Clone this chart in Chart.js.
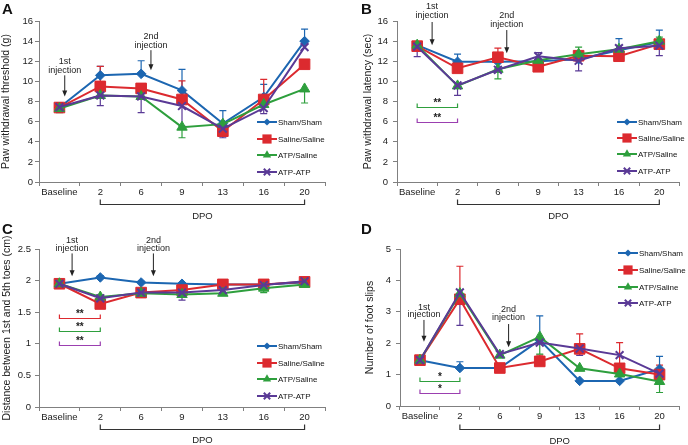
<!DOCTYPE html>
<html>
<head>
<meta charset="utf-8">
<script src="https://cdn.jsdelivr.net/npm/chart.js@4.4.1/dist/chart.umd.min.js"></script>
<style>
  body { margin: 0; background: #fff; width: 688px; height: 445px; position: relative; overflow: hidden; font-family: 'Liberation Sans', Arial, sans-serif; }
  canvas { position: absolute; }
  .tag { position: absolute; font-weight: bold; font-size: 15px; line-height: 1; color: #111; }
</style>
</head>
<body>
<canvas id="A" width="344" height="222" style="left:0;top:0"></canvas>
<canvas id="B" width="343" height="222" style="left:345px;top:0"></canvas>
<canvas id="C" width="344" height="223" style="left:0;top:222px"></canvas>
<canvas id="D" width="343" height="223" style="left:345px;top:222px"></canvas>
<div class="tag" style="left:2px;top:1px">A</div>
<div class="tag" style="left:361px;top:1px">B</div>
<div class="tag" style="left:2px;top:221px">C</div>
<div class="tag" style="left:361px;top:221px">D</div>
<script>
const categories = ['Baseline', '2', '6', '9', '13', '16', '20'];
const groups = ['Sham/Sham', 'Saline/Saline', 'ATP/Saline', 'ATP-ATP'];

// error bars: only the half visible in the figure is kept, + above the mean, - below

// A - paw withdrawal threshold (g)
const aSham = [7.4, 10.6, 10.75, 9.1, 5.8, 8.45, 14.0];
const aSaline = [7.4, 9.5, 9.3, 8.2, 5.05, 8.2, 11.7];
const aAtpSaline = [7.3, 8.6, 8.5, 5.45, 5.75, 7.7, 9.25];
const aAtpAtp = [7.45, 8.6, 8.5, 7.55, 5.3, 7.35, 13.4];
const aShamErr = [0.3, 0.9, 1.3, 2.1, 1.3, 1.25, 1.2];
const aSalineErr = [0.5, 2.0, 0, 1.85, 0, 2.0, 0];
const aAtpSalineErr = [-0.4, 0, 0, -1.05, 0, 0, -1.4];
const aAtpAtpErr = [-0.5, -1.0, -1.6, -2.0, -0.9, -0.55, 0];

// B - paw withdrawal latency (sec)
const bSham = [13.6, 11.95, 11.95, 12.0, 12.2, 13.1, 13.9];
const bSaline = [13.5, 11.3, 12.4, 11.45, 12.55, 12.5, 13.7];
const bAtpSaline = [13.6, 9.55, 11.2, 12.1, 12.7, 13.2, 14.0];
const bAtpAtp = [13.45, 9.6, 11.15, 12.5, 12.05, 13.3, 13.55];
const bShamErr = [0.3, 0.75, 0, 0, 0, 1.15, 1.2];
const bSalineErr = [0.3, 0, 0.9, 0, 0, 0, 0];
const bAtpSalineErr = [0, 0, -0.95, 0, 0.7, 0, 0.4];
const bAtpAtpErr = [-1.0, -1.0, 0, 0.35, -1.0, 0, -1.0];

// C - distance between 1st and 5th toes (cm)
const cSham = [1.95, 2.05, 1.97, 1.95, 1.94, 1.94, 1.97];
const cSaline = [1.95, 1.63, 1.81, 1.85, 1.94, 1.94, 1.98];
const cAtpSaline = [1.95, 1.74, 1.80, 1.78, 1.80, 1.88, 1.94];
const cAtpAtp = [1.95, 1.72, 1.81, 1.81, 1.85, 1.93, 1.99];
const cShamErr = [0.02, 0.03, 0.02, 0, 0, 0, 0];
const cSalineErr = [0, -0.03, 0, 0, 0.03, 0, 0];
const cAtpSalineErr = [0, 0.03, 0, -0.04, 0, -0.07, 0];
const cAtpAtpErr = [0, 0, 0, -0.12, 0, 0, 0.02];

// D - number of foot slips
const dSham = [1.46, 1.21, 1.21, 2.1, 0.8, 0.8, 1.18];
const dSaline = [1.46, 3.4, 1.21, 1.42, 1.82, 1.2, 1.0];
const dAtpSaline = [1.46, 3.58, 1.62, 2.2, 1.2, 1.02, 0.78];
const dAtpAtp = [1.46, 3.62, 1.65, 2.02, 1.83, 1.62, 1.03];
const dShamErr = [0, 0.2, 0, 0.77, 0, 0.25, 0.4];
const dSalineErr = [0, 1.05, 0, 0.2, 0.48, 0.82, 0.3];
const dAtpSalineErr = [0, 0, 0, -0.55, 0, 0, -0.35];
const dAtpAtpErr = [0, -1.05, 0, 0, -0.22, 0, 0];

const FONT = "'Liberation Sans', Arial, sans-serif";
const colors = ['#1c66b1', '#dc2a2f', '#2e9f3d', '#5a3a96'];
const sigColors = {red: '#dc2a2f', green: '#2e9f3d', purple: '#9b3fb0'};
const markers = [
  {style: 'rectRot', r: 4.8, lr: 3.6},
  {style: 'rect', r: 7.5, lr: 6.5},
  {style: 'triangle', r: 6, lr: 4.8},
  {style: 'crossRot', r: 5.5, lr: 4.5},
];

function drawMarker(ctx, style, x, y, r, color) {
  ctx.save();
  ctx.fillStyle = color;
  ctx.strokeStyle = color;
  ctx.lineWidth = style === 'crossRot' ? 2 : 1;
  ctx.beginPath();
  if (style === 'rectRot') {
    ctx.moveTo(x, y - r); ctx.lineTo(x + r, y); ctx.lineTo(x, y + r); ctx.lineTo(x - r, y);
    ctx.closePath(); ctx.fill();
  } else if (style === 'rect') {
    const s = r * Math.SQRT1_2;
    ctx.rect(x - s, y - s, 2 * s, 2 * s); ctx.fill();
  } else if (style === 'triangle') {
    let a = 0;
    for (let k = 0; k < 3; k++) {
      const px = x + Math.sin(a) * r, py = y - Math.cos(a) * r;
      if (k === 0) ctx.moveTo(px, py); else ctx.lineTo(px, py);
      a += Math.PI * 2 / 3;
    }
    ctx.closePath(); ctx.fill();
  } else {
    const o = r * Math.SQRT1_2;
    ctx.moveTo(x - o, y - o); ctx.lineTo(x + o, y + o);
    ctx.moveTo(x + o, y - o); ctx.lineTo(x - o, y + o);
    ctx.stroke();
  }
  ctx.restore();
}

function overlay(p) {
  return {
    id: 'overlay' + p.id,
    beforeDatasetsDraw(chart) {
      const ctx = chart.ctx, y = chart.scales.y;
      ctx.save();
      ctx.lineWidth = 1.2;
      p.errs.forEach((errs, i) => {
        const meta = chart.getDatasetMeta(i);
        ctx.strokeStyle = colors[i];
        errs.forEach((e, j) => {
          if (!e) return;
          const x = meta.data[j].x;
          const y0 = y.getPixelForValue(p.values[i][j]);
          const y1 = y.getPixelForValue(p.values[i][j] + e);
          ctx.beginPath();
          ctx.moveTo(x, y0); ctx.lineTo(x, y1);
          ctx.moveTo(x - 3.5, y1); ctx.lineTo(x + 3.5, y1);
          ctx.stroke();
        });
      });
      ctx.restore();
    },
    afterDraw(chart) {
      const ctx = chart.ctx, xs = chart.scales.x, ys = chart.scales.y, area = chart.chartArea;
      ctx.save();
      ctx.fillStyle = '#222';
      ctx.strokeStyle = '#222';
      ctx.textAlign = 'center';
      ctx.textBaseline = 'middle';
      ctx.font = '9px ' + FONT;

      // injection arrows
      p.injections.forEach(inj => {
        const x = xs.getPixelForValue(inj.at);
        ctx.fillText(inj.label, x, ys.getPixelForValue(inj.text[0]));
        ctx.fillText('injection', x, ys.getPixelForValue(inj.text[1]));
        const a0 = ys.getPixelForValue(inj.arrow[0]), a1 = ys.getPixelForValue(inj.arrow[1]);
        ctx.lineWidth = 1;
        ctx.beginPath(); ctx.moveTo(x, a0); ctx.lineTo(x, a1 - 5); ctx.stroke();
        ctx.beginPath(); ctx.moveTo(x - 2.5, a1 - 6); ctx.lineTo(x + 2.5, a1 - 6); ctx.lineTo(x, a1);
        ctx.closePath(); ctx.fill();
      });

      // significance brackets, Baseline vs day 2
      const bx0 = xs.getPixelForValue(0), bx1 = xs.getPixelForValue(1);
      p.sig.forEach(s => {
        const y = Math.round(ys.getPixelForValue(s.v)) + 0.5;
        ctx.strokeStyle = sigColors[s.color];
        ctx.lineWidth = 1.2;
        ctx.beginPath();
        ctx.moveTo(bx0, y - 4); ctx.lineTo(bx0, y); ctx.lineTo(bx1, y); ctx.lineTo(bx1, y - 4);
        ctx.stroke();
        ctx.font = 'bold 10px ' + FONT;
        ctx.fillStyle = '#222';
        ctx.fillText(s.stars, (bx0 + bx1) / 2, y - 4);
      });

      // DPO bracket under the axis
      const dx0 = xs.getPixelForValue(1), dx1 = xs.getPixelForValue(6);
      const dy = area.bottom + p.dpo[0] + 0.5;
      ctx.strokeStyle = '#333';
      ctx.lineWidth = 1.2;
      ctx.beginPath();
      ctx.moveTo(dx0, dy - 5); ctx.lineTo(dx0, dy); ctx.lineTo(dx1, dy); ctx.lineTo(dx1, dy - 5);
      ctx.stroke();
      ctx.font = '9.5px ' + FONT;
      ctx.fillStyle = '#222';
      ctx.fillText('DPO', (dx0 + dx1) / 2, area.bottom + p.dpo[1]);

      // legend
      ctx.textAlign = 'left';
      ctx.font = '8px ' + FONT;
      groups.forEach((g, i) => {
        const y = p.legend.y[i], x = p.legend.x;
        ctx.strokeStyle = colors[i];
        ctx.lineWidth = 2;
        ctx.beginPath(); ctx.moveTo(x, y); ctx.lineTo(x + 20, y); ctx.stroke();
        drawMarker(ctx, markers[i].style, x + 10, y, markers[i].lr, colors[i]);
        ctx.fillStyle = '#111';
        ctx.fillText(g, x + 21, y + 0.5);
      });
      ctx.restore();
    }
  };
}

function makeChart(p) {
  const datasets = p.values.map((v, i) => ({
    label: groups[i],
    data: v,
    borderColor: colors[i],
    backgroundColor: colors[i],
    borderWidth: 2,
    pointStyle: markers[i].style,
    pointRadius: markers[i].r,
    pointBackgroundColor: colors[i],
    pointBorderColor: colors[i],
    pointBorderWidth: i === 3 ? 2 : 1,
    tension: 0,
    order: 4 - i,
  }));
  new Chart(document.getElementById(p.id), {
    type: 'line',
    data: {labels: categories, datasets: datasets},
    options: {
      responsive: false,
      animation: false,
      events: [],
      layout: {padding: p.pad},
      plugins: {legend: {display: false}, tooltip: {enabled: false}},
      scales: {
        x: {
          offset: true,
          grid: {display: true, drawOnChartArea: false, drawTicks: true, tickLength: 4, offset: true, color: '#808080'},
          border: {color: '#808080', width: 1},
          ticks: {font: {family: FONT, size: 9.5}, color: '#222', padding: 1, maxRotation: 0, autoSkip: false},
          afterFit: s => { s.height = p.xHeight; },
        },
        y: {
          min: 0, max: p.yMax,
          grid: {display: true, drawOnChartArea: false, drawTicks: true, tickLength: 4, color: '#808080'},
          border: {color: '#808080', width: 1},
          ticks: {
            stepSize: p.yStep, font: {family: FONT, size: 9.5}, color: '#222', padding: p.tickPad,
            callback: v => String(+v.toFixed(1)),
          },
          title: {display: true, text: p.yTitle, font: {family: FONT, size: 10.5}, color: '#222', padding: 0},
          afterFit: s => { s.width = p.yWidth; },
        },
      },
    },
    plugins: [overlay(p)],
  });
}

makeChart({
  id: 'A', yMax: 16, yStep: 2, yTitle: 'Paw withdrawal threshold (g)',
  values: [aSham, aSaline, aAtpSaline, aAtpAtp],
  errs: [aShamErr, aSalineErr, aAtpSalineErr, aAtpAtpErr],
  pad: {left: 0, top: 21, right: 19, bottom: 0}, yWidth: 39, xHeight: 40, tickPad: 2,
  injections: [
    {label: '1st', at: 0.13, text: [12.0, 11.1], arrow: [10.6, 8.5]},
    {label: '2nd', at: 2.24, text: [14.5, 13.6], arrow: [13.1, 11.1]},
  ],
  sig: [],
  legend: {x: 257, y: [122, 139, 155, 172]},
  dpo: [22, 34],
});

makeChart({
  id: 'B', yMax: 16, yStep: 2, yTitle: 'Paw withdrawal latency (sec)',
  values: [bSham, bSaline, bAtpSaline, bAtpAtp],
  errs: [bShamErr, bSalineErr, bAtpSalineErr, bAtpAtpErr],
  pad: {left: 17, top: 21, right: 3, bottom: 0}, yWidth: 35, xHeight: 40, tickPad: 5,
  injections: [
    {label: '1st', at: 0.37, text: [17.4, 16.5], arrow: [15.9, 13.6]},
    {label: '2nd', at: 2.22, text: [16.5, 15.7], arrow: [15.1, 12.8]},
  ],
  sig: [{color: 'green', v: 7.5, stars: '**'}, {color: 'purple', v: 6.0, stars: '**'}],
  legend: {x: 272, y: [122, 138, 154, 171]},
  dpo: [22, 34],
});

makeChart({
  id: 'C', yMax: 2.5, yStep: 0.5, yTitle: 'Distance between 1st and 5th toes (cm)',
  values: [cSham, cSaline, cAtpSaline, cAtpAtp],
  errs: [cShamErr, cSalineErr, cAtpSalineErr, cAtpAtpErr],
  pad: {left: 1, top: 27, right: 19, bottom: 0}, yWidth: 38, xHeight: 38, tickPad: 4,
  injections: [
    {label: '1st', at: 0.31, text: [2.64, 2.51], arrow: [2.43, 2.07]},
    {label: '2nd', at: 2.3, text: [2.64, 2.51], arrow: [2.43, 2.07]},
  ],
  sig: [{color: 'red', v: 1.41, stars: '**'}, {color: 'green', v: 1.2, stars: '**'}, {color: 'purple', v: 0.98, stars: '**'}],
  legend: {x: 257, y: [124, 141, 157, 174]},
  dpo: [22, 33],
});

makeChart({
  id: 'D', yMax: 5, yStep: 1, yTitle: 'Number of foot slips',
  values: [dSham, dSaline, dAtpSaline, dAtpAtp],
  errs: [dShamErr, dSalineErr, dAtpSalineErr, dAtpAtpErr],
  pad: {left: 19, top: 27, right: 2, bottom: 0}, yWidth: 36, xHeight: 39, tickPad: 5,
  injections: [
    {label: '1st', at: 0.1, text: [3.14, 2.9], arrow: [2.74, 2.05]},
    {label: '2nd', at: 2.22, text: [3.08, 2.81], arrow: [2.61, 1.87]},
  ],
  sig: [{color: 'green', v: 0.81, stars: '*'}, {color: 'purple', v: 0.42, stars: '*'}],
  legend: {x: 273, y: [31, 48, 65, 81]},
  dpo: [23, 35],
});
</script>
</body>
</html>
